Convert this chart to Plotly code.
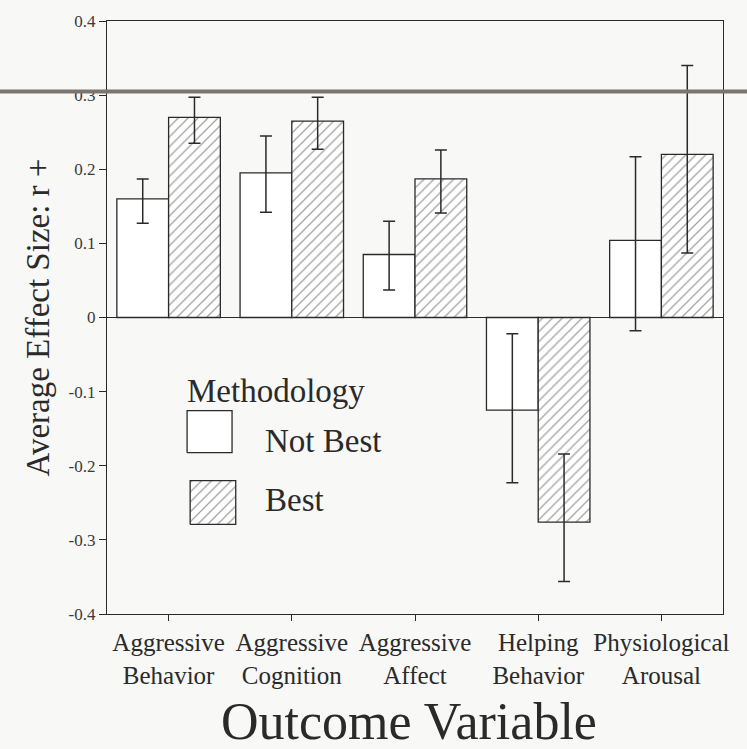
import plotly.graph_objects as go

categories = ["Aggressive<br>Behavior", "Aggressive<br>Cognition", "Aggressive<br>Affect",
              "Helping<br>Behavior", "Physiological<br>Arousal"]
not_best = [0.160, 0.195, 0.085, -0.125, 0.104]
not_best_hi = [0.187, 0.245, 0.130, -0.022, 0.217]
not_best_lo = [0.127, 0.142, 0.037, -0.223, -0.018]
best = [0.270, 0.265, 0.187, -0.276, 0.220]
best_hi = [0.297, 0.297, 0.226, -0.184, 0.340]
best_lo = [0.235, 0.227, 0.141, -0.356, 0.087]
y_ticks = [0.4, 0.3, 0.2, 0.1, 0, -0.1, -0.2, -0.3, -0.4]
y_tick_text = ["0.4", "0.3", "0.2", "0.1", "0", "-0.1", "-0.2", "-0.3", "-0.4"]

FONT = "Liberation Serif"
INK = "#2a2a2a"
BG = "#f8f8f6"

fig = go.Figure()
fig.add_trace(go.Bar(
    x=categories, y=not_best, name="Not Best",
    marker=dict(color="white", line=dict(color=INK, width=1.3)),
    error_y=dict(type="data", symmetric=False,
                 array=[h - v for h, v in zip(not_best_hi, not_best)],
                 arrayminus=[v - l for l, v in zip(not_best_lo, not_best)],
                 color=INK, thickness=1.5, width=6),
    showlegend=False))
fig.add_trace(go.Bar(
    x=categories, y=best, name="Best",
    marker=dict(color="white", line=dict(color=INK, width=1.3),
                pattern=dict(shape="/", size=7, solidity=0.18, fgcolor="#444", bgcolor="white")),
    error_y=dict(type="data", symmetric=False,
                 array=[h - v for h, v in zip(best_hi, best)],
                 arrayminus=[v - l for l, v in zip(best_lo, best)],
                 color=INK, thickness=1.5, width=6),
    showlegend=False))

# legend swatches (drawn in an overlay axis that maps to the plot area 0..1)
fig.add_trace(go.Scatter(
    x=[0.130, 0.203, 0.203, 0.130, 0.130], y=[0.272, 0.272, 0.343, 0.343, 0.272],
    xaxis="x2", yaxis="y2", mode="lines", fill="toself", fillcolor="white",
    line=dict(color=INK, width=1.3), showlegend=False, hoverinfo="skip"))
fig.add_trace(go.Scatter(
    x=[0.135, 0.209, 0.209, 0.135, 0.135], y=[0.151, 0.151, 0.225, 0.225, 0.151],
    xaxis="x2", yaxis="y2", mode="lines", fill="toself",
    fillpattern=dict(shape="/", size=7, solidity=0.18, fgcolor="#444", bgcolor="white"),
    line=dict(color=INK, width=1.3), showlegend=False, hoverinfo="skip"))

fig.update_layout(
    width=747, height=749,
    margin=dict(l=107, r=24, t=19, b=135),
    paper_bgcolor=BG, plot_bgcolor=BG,
    barmode="group", bargap=0.16, bargroupgap=0,
    font=dict(family=FONT, color=INK),
    xaxis=dict(range=[-0.5, 4.5], showline=True, linecolor=INK, linewidth=1.3, mirror=True,
               ticks="outside", ticklen=6, tickcolor=INK, tickfont=dict(size=25, family=FONT, color=INK),
               showgrid=False, zeroline=False),
    yaxis=dict(range=[-0.4, 0.4], tickvals=y_ticks, ticktext=y_tick_text, showline=True,
               linecolor=INK, linewidth=1.3, mirror=True, ticks="outside", ticklen=7, tickcolor=INK,
               tickfont=dict(size=17, family=FONT, color="#3a3a3a"), showgrid=False,
               zeroline=True, zerolinecolor=INK, zerolinewidth=1.3,
               title=dict(text="Average Effect Size: r +", font=dict(size=33, family=FONT, color=INK), standoff=8)),
    xaxis2=dict(overlaying="x", range=[0, 1], visible=False),
    yaxis2=dict(overlaying="y", range=[0, 1], visible=False),
    annotations=[
        dict(text="Outcome Variable", x=0.49, y=-0.182, xref="paper", yref="paper",
             xanchor="center", yanchor="middle", showarrow=False,
             font=dict(size=52, family=FONT, color=INK)),
        dict(text="Methodology", x=0.127, y=0.376, xref="x2", yref="y2", xanchor="left", yanchor="middle",
             showarrow=False, font=dict(size=33, family=FONT, color=INK)),
        dict(text="Not Best", x=0.253, y=0.292, xref="x2", yref="y2", xanchor="left", yanchor="middle",
             showarrow=False, font=dict(size=33, family=FONT, color=INK)),
        dict(text="Best", x=0.253, y=0.192, xref="x2", yref="y2", xanchor="left", yanchor="middle",
             showarrow=False, font=dict(size=33, family=FONT, color=INK)),
    ],
    shapes=[dict(type="line", xref="paper", yref="y", x0=-0.18, x1=1.05, y0=0.305, y1=0.305,
                 line=dict(color="#7d746f", width=4), layer="above")],
)

fig.write_html("out.html", config={"displayModeBar": False},
               post_script="document.body.style.margin='0px';document.body.style.background='%s';" % BG)
